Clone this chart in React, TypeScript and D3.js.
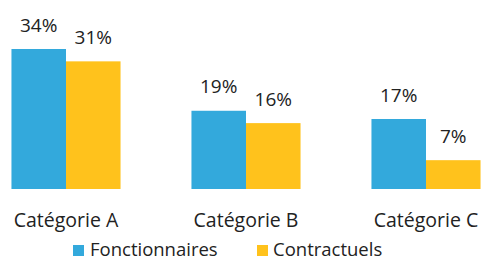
import React from "react";
import * as d3 from "d3";

const categories = ["Catégorie A", "Catégorie B", "Catégorie C"];
const seriesNames = ["Fonctionnaires", "Contractuels"];
const fonctionnaires = [34, 19, 17];
const contractuels = [31, 16, 7];
const colors = ["#33A9DC", "#FFC21C"];

const W = 481;
const H = 261;
const FONT = "'Open Sans', 'Noto Sans', sans-serif";

export default function App() {
  const x = d3
    .scaleBand<string>()
    .domain(categories)
    .range([-24, 516])
    .paddingInner(0.394)
    .paddingOuter(0.197);
  const x1 = d3.scaleBand<string>().domain(seriesNames).range([0, x.bandwidth()]);
  const y = d3.scaleLinear().domain([0, 34]).range([189, 49]);
  const series = [fonctionnaires, contractuels];

  return (
    <svg
      width={W}
      height={H}
      style={{ position: "absolute", left: 0, top: 0, background: "#fff" }}
      fontFamily={FONT}
    >
      {categories.map((c, i) => (
        <g key={c} transform={`translate(${x(c)},0)`}>
          {seriesNames.map((s, j) => {
            const v = series[j][i];
            const bx = x1(s)!;
            return (
              <g key={s}>
                <rect x={bx} y={y(v)} width={x1.bandwidth()} height={y(0) - y(v)} fill={colors[j]} />
                <text
                  x={bx + x1.bandwidth() / 2}
                  y={y(v) - 17.5}
                  textAnchor="middle"
                  fontSize={19}
                  fill="#222"
                >
                  {v}%
                </text>
              </g>
            );
          })}
          <text x={x.bandwidth() / 2} y={227} textAnchor="middle" fontSize={19.5} fill="#222">
            {c}
          </text>
        </g>
      ))}
      {[
        { name: seriesNames[0], sx: 73, tx: 90 },
        { name: seriesNames[1], sx: 257, tx: 273 },
      ].map((l, j) => (
        <g key={l.name}>
          <rect x={l.sx} y={245} width={11} height={11} fill={colors[j]} />
          <text x={l.tx} y={255.5} fontSize={18.5} fill="#222">
            {l.name}
          </text>
        </g>
      ))}
    </svg>
  );
}
